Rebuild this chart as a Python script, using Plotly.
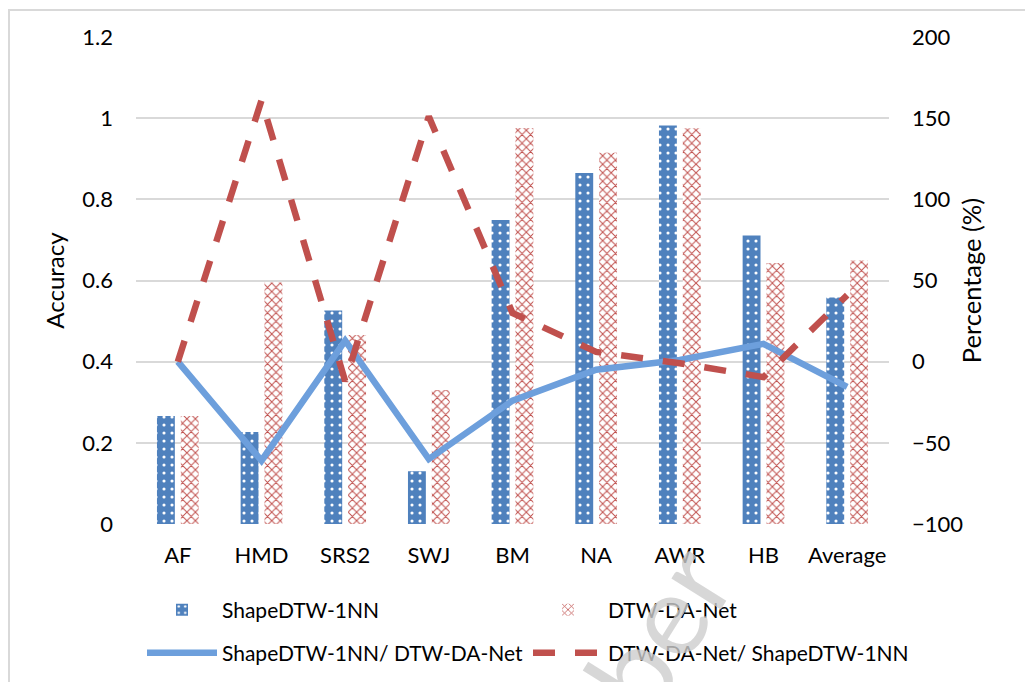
import plotly.graph_objects as go

categories = ["AF", "HMD", "SRS2", "SWJ", "BM", "NA", "AWR", "HB", "Average"]
shapedtw_acc = [0.266, 0.227, 0.526, 0.130, 0.749, 0.865, 0.982, 0.711, 0.558]
dtwdanet_acc = [0.266, 0.595, 0.466, 0.330, 0.976, 0.915, 0.975, 0.643, 0.649]
shape_over_dtw = [0, -61, 13, -60, -24, -5, 1, 11, -15.5]
dtw_over_shape = [0, 161, -12, 151, 30, 6, -1, -9.5, 41]

acc_ticks = [0, 0.2, 0.4, 0.6, 0.8, 1, 1.2]
pct_ticks = [-100, -50, 0, 50, 100, 150, 200]

FONT = "Lato, Carlito, Calibri, sans-serif"
BLUE_BAR = "#4f81bd"
RED = "#c0504d"
BLUE_LINE = "#6d9fdc"
GRID = "#d9d9d9"

fig = go.Figure()

fig.add_trace(go.Bar(
    x=categories, y=shapedtw_acc, name="ShapeDTW-1NN",
    marker=dict(color=BLUE_BAR, line=dict(width=0),
                pattern=dict(shape=".", bgcolor=BLUE_BAR, fgcolor="white",
                             size=8, solidity=0.12, fillmode="replace")),
    legend="legend", showlegend=True,
))
fig.add_trace(go.Bar(
    x=categories, y=dtwdanet_acc, name="DTW-DA-Net",
    marker=dict(color="white", line=dict(width=0),
                pattern=dict(shape="x", bgcolor="white", fgcolor=RED,
                             size=6, solidity=0.3, fillmode="replace")),
    legend="legend2", showlegend=True,
))
fig.add_trace(go.Scatter(
    x=categories, y=shape_over_dtw, name="ShapeDTW-1NN/ DTW-DA-Net",
    mode="lines", yaxis="y2", line=dict(color=BLUE_LINE, width=6.5),
    legend="legend3", showlegend=True,
))
fig.add_trace(go.Scatter(
    x=categories, y=dtw_over_shape, name="DTW-DA-Net/ ShapeDTW-1NN",
    mode="lines", yaxis="y2", line=dict(color=RED, width=6.5, dash="22px,20px"),
    legend="legend4", showlegend=True,
))

L, R, T, B = 136, 136, 37, 158
W, H = 1025, 682
pw, ph = W - L - R, H - T - B

def px_x(x):
    return (x - L) / pw

def px_y(y):
    return (H - B - y) / ph

def legend_at(xp, yp):
    return dict(
        x=px_x(xp), y=px_y(yp),
        orientation="h", xanchor="left", yanchor="middle",
        font=dict(family=FONT, size=21, color="#000"),
        itemwidth=70, bgcolor="rgba(0,0,0,0)", visible=True,
    )

fig.update_layout(
    width=W, height=H,
    showlegend=True,
    margin=dict(l=L, r=R, t=T, b=B, autoexpand=False),
    paper_bgcolor="white", plot_bgcolor="white",
    font=dict(family=FONT, size=22, color="#000"),
    barmode="group", bargap=0.43, bargroupgap=0.25,
    xaxis=dict(showgrid=False, showline=False, ticks="", tickfont=dict(size=22),
               ticklabelstandoff=16),
    yaxis=dict(range=[0, 1.2], tickvals=acc_ticks, showgrid=True, gridcolor=GRID,
               gridwidth=1.5, zeroline=False, showline=False, ticks="",
               ticklabelstandoff=22, tickfont=dict(size=22),
               title=dict(text="Accuracy", font=dict(size=24), standoff=10)),
    yaxis2=dict(range=[-100, 200], tickvals=pct_ticks, overlaying="y", side="right",
                showgrid=False, zeroline=False, showline=False, ticks="",
                ticklabelstandoff=22, tickfont=dict(size=22),
                title=dict(text="Percentage (%)", font=dict(size=25.5), standoff=0)),
    legend=legend_at(142, 610),
    legend2=legend_at(528, 610),
    legend3=legend_at(142, 653),
    legend4=legend_at(528, 653),
    shapes=[dict(type="rect", xref="paper", yref="paper",
                 x0=px_x(9), x1=px_x(1100), y0=px_y(760), y1=px_y(10),
                 line=dict(color="#d9d9d9", width=2), fillcolor="rgba(0,0,0,0)",
                 layer="below")],
    annotations=[dict(text="ber", xref="paper", yref="paper",
                      x=px_x(656), y=px_y(628), xanchor="center", yanchor="middle",
                      showarrow=False, textangle=-58,
                      font=dict(family=FONT, size=115, color="rgba(205,205,205,0.8)"))],
)

fig.write_html("out.html")
